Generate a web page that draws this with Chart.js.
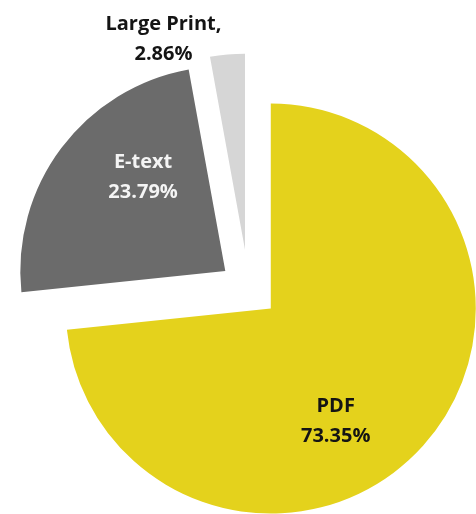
<!DOCTYPE html>
<html>
<head>
<meta charset="utf-8">
<script src="https://cdn.jsdelivr.net/npm/chart.js@4.4.1/dist/chart.umd.min.js"></script>
<style>
  html, body { margin: 0; padding: 0; background: #fff; }
  #wrap { width: 476px; height: 514px; }
</style>
</head>
<body>
<div id="wrap"><canvas id="formatChart"></canvas></div>
<script>
const formats = ['PDF', 'E-text', 'Large Print'];
const shares = [73.35, 23.79, 2.86];
const separators = ['', '', ','];

// look of each slice
const sliceColors = ['#E4D21C', '#6B6B6B', '#D6D6D6'];
const labelColors = ['#141414', '#F4F4F4', '#141414'];
const pullOut = [30, 29, 39];          // px each slice is pulled away from the centre
const sliceRadius = [205, 205, 196];
const labelPlace = [                    // distance from slice tip, turn from mid angle (deg)
    { dist: 130, turn: 18 },
    { dist: 125, turn: 12 },
    { dist: 226, turn: -16 }
];

// move every slice out along its own mid angle (plain offset also grows the radius)
const explode = {
    id: 'explode',
    beforeDatasetDraw(chart, args) {
        const area = chart.chartArea;
        const cx = (area.left + area.right) / 2;
        const cy = (area.top + area.bottom) / 2;
        args.meta.data.forEach((arc, i) => {
            const mid = (arc.startAngle + arc.endAngle) / 2;
            arc.x = cx + Math.cos(mid) * pullOut[i];
            arc.y = cy + Math.sin(mid) * pullOut[i];
            arc.outerRadius = sliceRadius[i];
        });
    }
};

const sliceLabels = {
    id: 'sliceLabels',
    afterDatasetsDraw(chart) {
        const ctx = chart.ctx;
        const arcs = chart.getDatasetMeta(0).data;
        ctx.save();
        ctx.font = 'bold 20px "Open Sans"';
        ctx.textAlign = 'center';
        ctx.textBaseline = 'middle';
        arcs.forEach((arc, i) => {
            const mid = (arc.startAngle + arc.endAngle) / 2 + labelPlace[i].turn * Math.PI / 180;
            const x = arc.x + Math.cos(mid) * labelPlace[i].dist;
            const y = arc.y + Math.sin(mid) * labelPlace[i].dist;
            const lines = [formats[i] + separators[i], shares[i].toFixed(2) + '%'];
            ctx.fillStyle = labelColors[i];
            lines.forEach((t, k) => ctx.fillText(t, x, y + (k - 0.5) * 30));
        });
        ctx.restore();
    }
};

new Chart(document.getElementById('formatChart'), {
    type: 'pie',
    data: {
        labels: formats,
        datasets: [{
            data: shares,
            backgroundColor: sliceColors,
            borderWidth: 0,
            clip: false
        }]
    },
    options: {
        responsive: true,
        maintainAspectRatio: false,
        animation: false,
        events: [],
        radius: 205,
        layout: {
            padding: { left: 21, right: 0, top: 63, bottom: 0 }
        },
        plugins: {
            legend: { display: false },
            tooltip: { enabled: false }
        }
    },
    plugins: [explode, sliceLabels]
});
</script>
</body>
</html>
